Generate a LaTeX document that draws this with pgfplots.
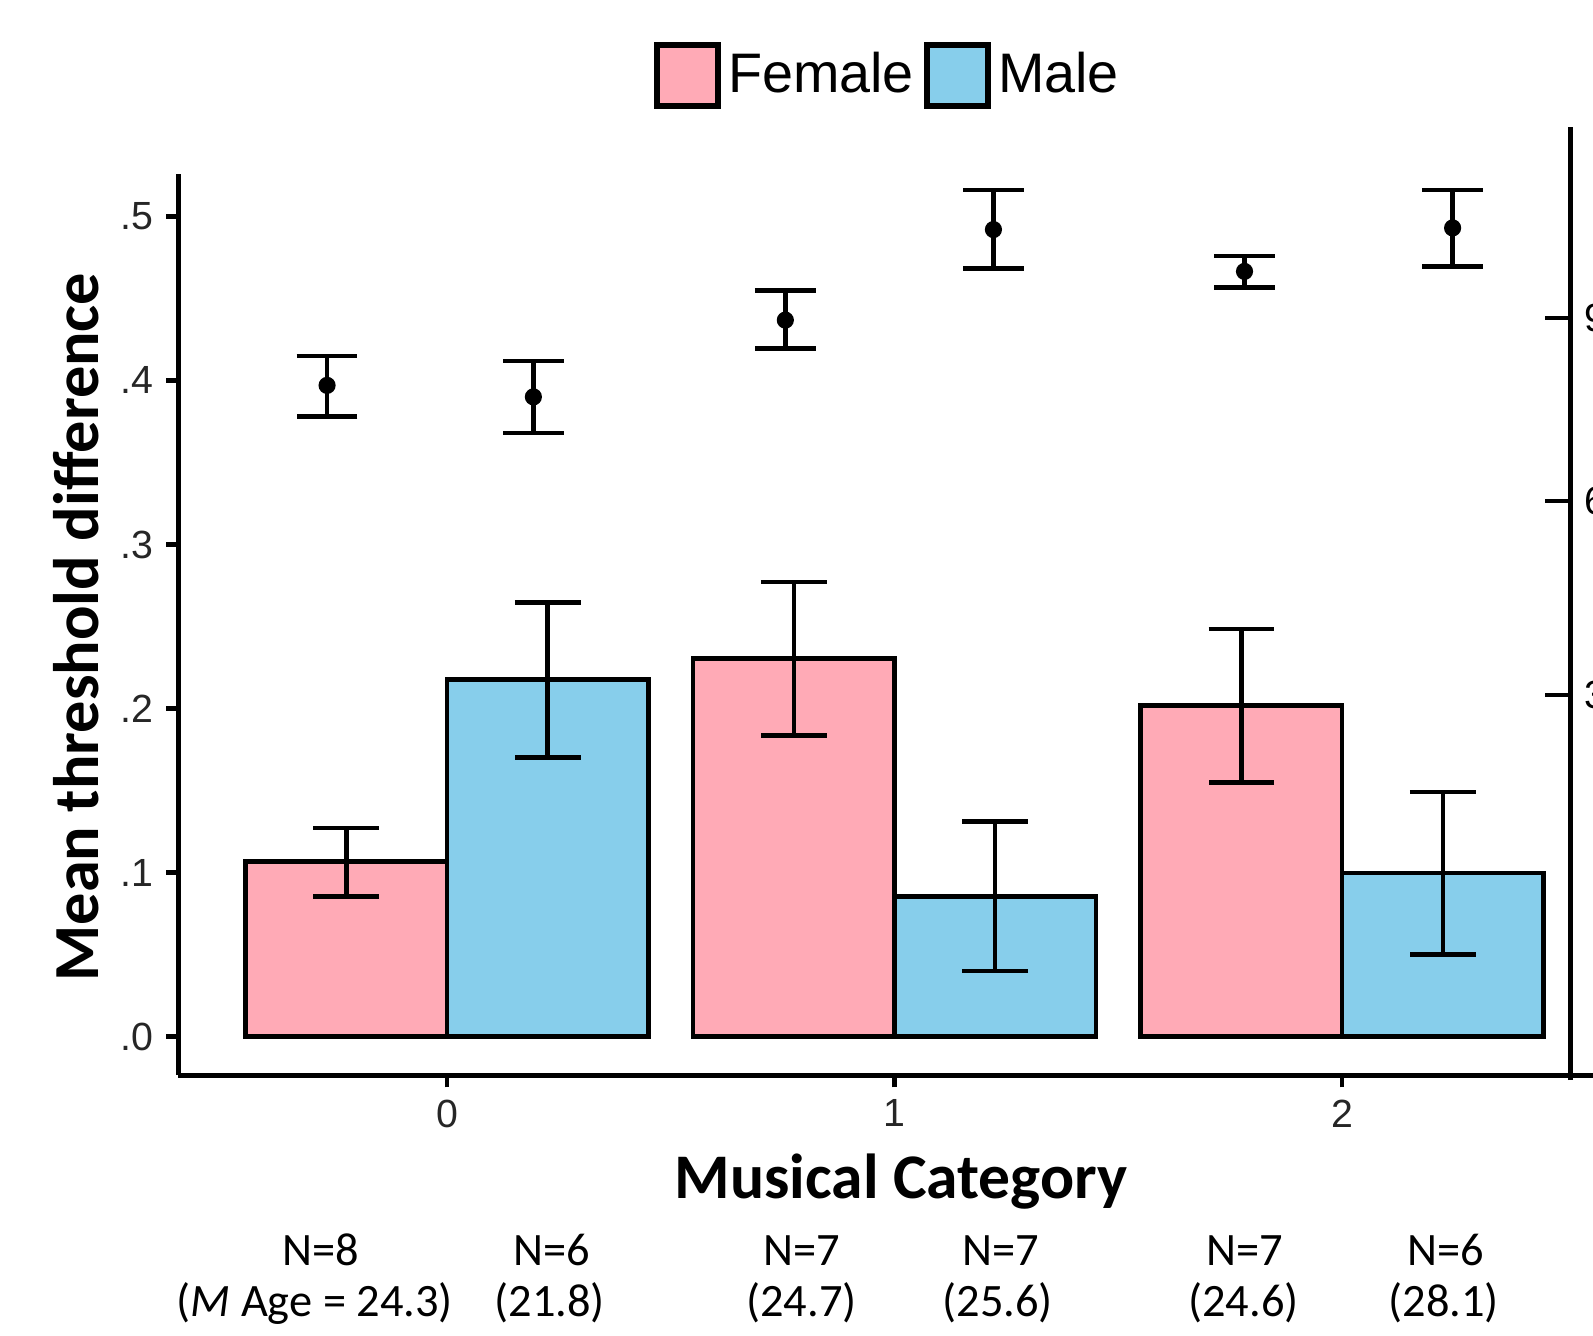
\documentclass[border=0pt]{standalone}
\usepackage{pgfplots}
\pgfplotsset{compat=1.18}
\usepackage{fontspec}
\setmainfont{Carlito}
\newfontfamily\arial{Liberation Sans}
\definecolor{fem}{HTML}{FFAAB6}
\definecolor{mal}{HTML}{87CEEB}
\begin{document}
\begin{tikzpicture}
\begin{axis}[
  scale only axis, width=139.2mm, height=88.7mm,
  xmin=-0.6, xmax=2.5607, ymin=-0.02354, ymax=0.526,
  axis x line=bottom, axis y line=left,
  axis line style={-, line width=1.4pt},
  clip=false,
  xtick={0,1,2}, xticklabels={0,1,2},
  ytick={0,0.1,0.2,0.3,0.4,0.5}, yticklabels={.0,.1,.2,.3,.4,.5},
  tick align=outside, major tick length=1.2mm,
  tick style={line width=1.2pt, black},
  ticklabel style={font=\arial\fontsize{11}{13}\selectfont, text=black!85},
  xlabel={Musical Category}, ylabel={Mean threshold difference},
  every axis x label/.style={at={(rel axis cs:0.5108,-0.1184)}, anchor=center, font=\bfseries\fontsize{17.8}{20}\selectfont},
  every axis y label/.style={at={(rel axis cs:-0.0726,0.497)}, anchor=center, rotate=90, font=\bfseries\fontsize{18}{20}\selectfont},
  legend columns=2,
  legend style={at={(rel axis cs:0.503,1.1094)}, anchor=center, draw=none, fill=none,
    font=\arial\fontsize{15.6}{18}\selectfont,
    /tikz/every even column/.append style={column sep=0.3mm}},
  legend image code/.code={\draw[#1, draw=black, line width=1.7pt] (0mm,-3.0mm) rectangle (6.0mm,3.0mm);},
]
\addplot[ybar, bar width=0.45, bar shift=-0.225, fill=fem, draw=black, line width=1.3pt]
  coordinates {(0,0.1066) (1,0.2305) (2,0.2020)};
\addlegendentry{Female}
\addplot[ybar, bar width=0.45, bar shift=0.225, fill=mal, draw=black, line width=1.3pt]
  coordinates {(0,0.2175) (1,0.0855) (2,0.0998)};
\addlegendentry{Male}
% error bars of the bars (at the bar centres)
\addplot[forget plot, only marks, mark=*, mark size=0pt, black,
  error bars/.cd, y dir=both, y explicit,
  error bar style={line width=1.25pt, black},
  error mark options={rotate=90, mark size=9.2pt, line width=1.25pt, black}]
  coordinates {
    (-0.225,0.1066) += (0,0.0204) -= (0,0.0211)
    (0.775,0.2305) += (0,0.0465) -= (0,0.0471)
    (1.775,0.2020) += (0,0.0465) -= (0,0.0470)
    (0.225,0.2175) += (0,0.0471) -= (0,0.0475)
    (1.225,0.0855) += (0,0.0455) -= (0,0.0455)
    (2.225,0.0998) += (0,0.0492) -= (0,0.0498)
  };
\addplot[forget plot, only marks, mark=*, mark size=2.2pt, black,
  error bars/.cd, y dir=both, y explicit,
  error bar style={line width=1.25pt, black},
  error mark options={rotate=90, mark size=8.5pt, line width=1.25pt, black}]
  coordinates {
    (-0.268,0.3970) += (0,0.0180) -= (0,0.0190)
    (0.193,0.3900) += (0,0.0220) -= (0,0.0220)
    (0.756,0.4368) += (0,0.0180) -= (0,0.0173)
    (1.221,0.4920) += (0,0.0240) -= (0,0.0236)
    (1.782,0.4665) += (0,0.0093) -= (0,0.0099)
    (2.247,0.4930) += (0,0.0230) -= (0,0.0234)
  };
% right-hand axis of the overlaid chart
\draw[line width=1.4pt] (axis cs:2.5108,-0.0266) -- (axis cs:2.5108,0.5545);
\draw[line width=1.1pt] (axis cs:2.4541,0.4380) -- (axis cs:2.5108,0.4380);
\draw[line width=1.1pt] (axis cs:2.4541,0.3265) -- (axis cs:2.5108,0.3265);
\draw[line width=1.1pt] (axis cs:2.4541,0.2082) -- (axis cs:2.5108,0.2082);
\node[anchor=west, inner sep=0pt, font=\arial\fontsize{11}{13}\selectfont] at (axis cs:2.540,0.4380) {9};
\node[anchor=west, inner sep=0pt, font=\arial\fontsize{11}{13}\selectfont] at (axis cs:2.540,0.3265) {6};
\node[anchor=west, inner sep=0pt, font=\arial\fontsize{11}{13}\selectfont] at (axis cs:2.540,0.2082) {3};
% sample sizes
\begin{scope}[every node/.style={anchor=base, inner sep=0pt, font=\fontsize{13}{15}\selectfont}]
\node at (axis cs:-0.2815,-0.1394) {N=8};
\node at (axis cs:0.2338,-0.1394) {N=6};
\node at (axis cs:0.7923,-0.1394) {N=7};
\node at (axis cs:1.2372,-0.1394) {N=7};
\node at (axis cs:1.7821,-0.1394) {N=7};
\node at (axis cs:2.2316,-0.1394) {N=6};
\node at (axis cs:-0.2951,-0.1710) {(\textit{M} Age = 24.3)};
\node at (axis cs:0.2293,-0.1710) {(21.8)};
\node at (axis cs:0.7923,-0.1710) {(24.7)};
\node at (axis cs:1.2304,-0.1710) {(25.6)};
\node at (axis cs:1.7798,-0.1710) {(24.6)};
\node at (axis cs:2.2270,-0.1710) {(28.1)};
\end{scope}
\coordinate (bl) at (axis cs:-0.99886,-0.18216);
\coordinate (tr) at (axis cs:2.5607,0.63197);
\end{axis}
\pgfresetboundingbox
\path[use as bounding box] (bl) rectangle (tr);
\end{tikzpicture}
\end{document}
